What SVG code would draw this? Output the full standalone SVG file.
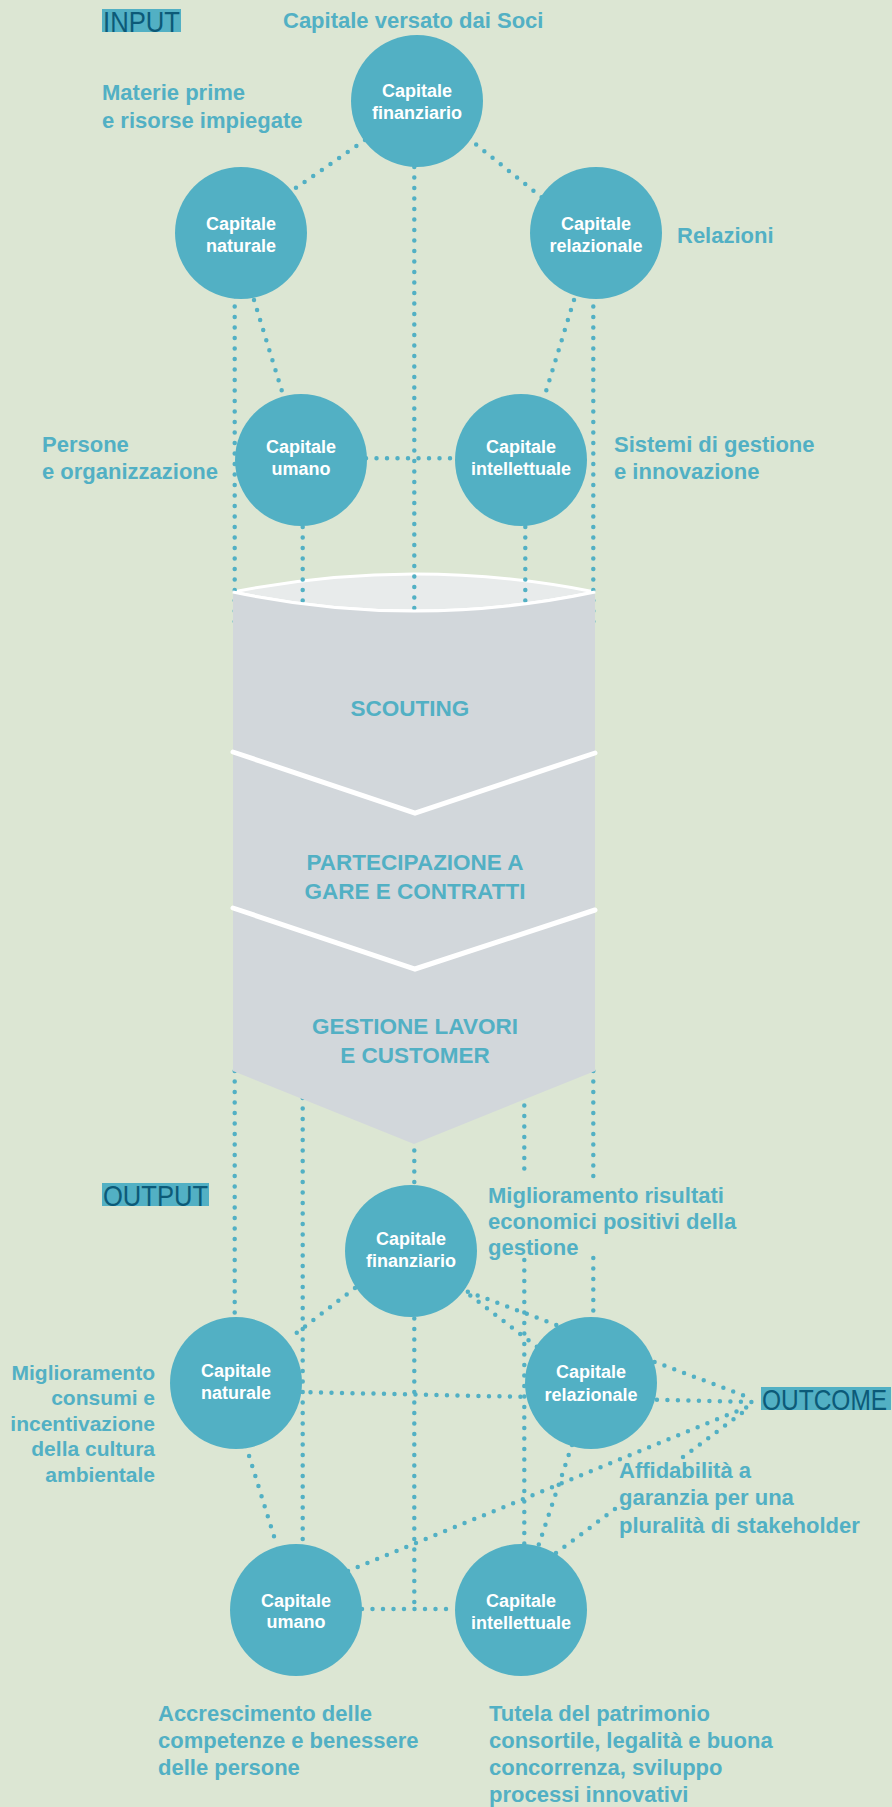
<svg xmlns="http://www.w3.org/2000/svg" width="892" height="1807" viewBox="0 0 892 1807">
<style>
.dot{fill:none;stroke:#52b0c4;stroke-width:4.5;stroke-linecap:round;stroke-dasharray:0 10.5}
.circ{fill:#52b0c4}
.cl{font-family:'Liberation Sans',Arial,sans-serif;font-weight:bold;font-size:18px;fill:#ffffff;text-anchor:middle}
.lbl{font-family:'Liberation Sans',Arial,sans-serif;font-weight:bold;font-size:22px;fill:#52b0c4}
.lbs{font-size:21px}
.ph{font-family:'Liberation Sans',Arial,sans-serif;font-weight:bold;font-size:22.5px;fill:#52b0c4;text-anchor:middle}
.tagbg{fill:#52b0c4}
.tag{font-family:'Liberation Sans',Arial,sans-serif;font-size:30px;fill:#0c5a78}
</style>
<rect width="892" height="1807" fill="#dce6d3"/>

<g id="process-top">
<path d="M233,592 Q414,556 595,592 Q414,630 233,592 Z" fill="#e8ebeb" stroke="#ffffff" stroke-width="3"/>
</g>

<g id="connectors">
<!-- input section -->
<path class="dot" d="M365,140 L290,192"/>
<path class="dot" d="M468,138 L545,200"/>
<path class="dot" d="M414.3,167 L414.3,611"/>
<path class="dot" d="M234.7,296 L234.7,628"/>
<path class="dot" d="M593.3,296 L593.3,628"/>
<path class="dot" d="M254,300 L284,398"/>
<path class="dot" d="M574,300 L544,398"/>
<path class="dot" d="M366,458.3 L456,458.3"/>
<path class="dot" d="M302.7,527 L302.7,604"/>
<path class="dot" d="M525.3,527 L525.3,605"/>
<!-- output section -->
<path class="dot" d="M234.7,1071 L234.7,1318"/>
<path class="dot" d="M302.7,1098 L302.7,1545"/>
<path class="dot" d="M414.3,1140 L414.3,1612"/>
<path class="dot" d="M524.3,1095 L524.3,1176"/>
<path class="dot" d="M524.3,1260 L524.3,1545"/>
<path class="dot" d="M593.3,1071 L593.3,1182"/>
<path class="dot" d="M593.3,1258 L593.3,1318"/>
<path class="dot" d="M355,1288 L290,1338"/>
<path class="dot" d="M462,1289 L545,1353"/>
<path class="dot" d="M458,1288 L748,1397"/>
<path class="dot" d="M300,1392 L757,1402"/>
<path class="dot" d="M572,1445 L537,1550"/>
<path class="dot" d="M246,1446 L277,1546"/>
<path class="dot" d="M362,1609 L456,1609"/>
<path class="dot" d="M348,1571 L752,1405"/>
<path class="dot" d="M556,1553 L615,1509"/>
<path class="dot" d="M683,1457 L750,1407"/>
</g>

<g id="process">
<path d="M233,592 Q414,630 595,592 L595,1071 L414,1144 L233,1071 Z" fill="#d2d7db"/>
<path d="M233,592 Q414,630 595,592" fill="none" stroke="#ffffff" stroke-width="3"/>
<polyline points="233,752 415,813 595,753" fill="none" stroke="#ffffff" stroke-width="5" stroke-linecap="round" stroke-linejoin="miter"/>
<polyline points="233,908 415,969 595,910" fill="none" stroke="#ffffff" stroke-width="5" stroke-linecap="round" stroke-linejoin="miter"/>
<text class="ph" x="410" y="716">SCOUTING</text>
<text class="ph" x="415" y="870">PARTECIPAZIONE A</text>
<text class="ph" x="415" y="899">GARE E CONTRATTI</text>
<text class="ph" x="415" y="1034">GESTIONE LAVORI</text>
<text class="ph" x="415" y="1063">E CUSTOMER</text>
</g>

<!-- input nodes -->
<g id="in-finanziario"><circle class="circ" cx="417" cy="101" r="66"/><text class="cl" x="417" y="97">Capitale</text><text class="cl" x="417" y="119">finanziario</text></g>
<g id="in-naturale"><circle class="circ" cx="241" cy="233" r="66"/><text class="cl" x="241" y="230">Capitale</text><text class="cl" x="241" y="252">naturale</text></g>
<g id="in-relazionale"><circle class="circ" cx="596" cy="233" r="66"/><text class="cl" x="596" y="230">Capitale</text><text class="cl" x="596" y="252">relazionale</text></g>
<g id="in-umano"><circle class="circ" cx="301" cy="460" r="66"/><text class="cl" x="301" y="453">Capitale</text><text class="cl" x="301" y="475">umano</text></g>
<g id="in-intellettuale"><circle class="circ" cx="521" cy="460" r="66"/><text class="cl" x="521" y="453">Capitale</text><text class="cl" x="521" y="475">intellettuale</text></g>

<!-- output nodes -->
<g id="out-finanziario"><circle class="circ" cx="411" cy="1251" r="66"/><text class="cl" x="411" y="1245">Capitale</text><text class="cl" x="411" y="1267">finanziario</text></g>
<g id="out-naturale"><circle class="circ" cx="236" cy="1383" r="66"/><text class="cl" x="236" y="1377">Capitale</text><text class="cl" x="236" y="1399">naturale</text></g>
<g id="out-relazionale"><circle class="circ" cx="591" cy="1383" r="66"/><text class="cl" x="591" y="1378">Capitale</text><text class="cl" x="591" y="1401">relazionale</text></g>
<g id="out-umano"><circle class="circ" cx="296" cy="1610" r="66"/><text class="cl" x="296" y="1607">Capitale</text><text class="cl" x="296" y="1628">umano</text></g>
<g id="out-intellettuale"><circle class="circ" cx="521" cy="1610" r="66"/><text class="cl" x="521" y="1607">Capitale</text><text class="cl" x="521" y="1629">intellettuale</text></g>

<!-- section tags -->
<g id="tag-input"><rect class="tagbg" x="102" y="9" width="79" height="23"/><text class="tag" x="103" y="31.5" textLength="77" lengthAdjust="spacingAndGlyphs">INPUT</text></g>
<g id="tag-output"><rect class="tagbg" x="102" y="1183" width="107" height="23"/><text class="tag" x="103" y="1205.5" textLength="105" lengthAdjust="spacingAndGlyphs">OUTPUT</text></g>
<g id="tag-outcome"><rect class="tagbg" x="761" y="1387" width="130" height="23"/><text class="tag" style="font-size:24.5px" transform="translate(762,1409.5) scale(1,1.22)" x="0" y="0">OUTCOME</text></g>

<!-- labels -->
<g id="labels">
<text class="lbl" x="283" y="28">Capitale versato dai Soci</text>
<text class="lbl" x="102" y="100">Materie prime</text>
<text class="lbl" x="102" y="128">e risorse impiegate</text>
<text class="lbl" x="677" y="243">Relazioni</text>
<text class="lbl" x="42" y="452">Persone</text>
<text class="lbl" x="42" y="479">e organizzazione</text>
<text class="lbl" x="614" y="452">Sistemi di gestione</text>
<text class="lbl" x="614" y="479">e innovazione</text>
<text class="lbl" x="488" y="1203">Miglioramento risultati</text>
<text class="lbl" x="488" y="1229">economici positivi della</text>
<text class="lbl" x="488" y="1255">gestione</text>
<g text-anchor="end">
<text class="lbl lbs" x="155" y="1380">Miglioramento</text>
<text class="lbl lbs" x="155" y="1405">consumi e</text>
<text class="lbl lbs" x="155" y="1431">incentivazione</text>
<text class="lbl lbs" x="155" y="1456">della cultura</text>
<text class="lbl lbs" x="155" y="1482">ambientale</text>
</g>
<text class="lbl" x="619" y="1478">Affidabilità a</text>
<text class="lbl" x="619" y="1505">garanzia per una</text>
<text class="lbl" x="619" y="1533">pluralità di stakeholder</text>
<text class="lbl" x="158" y="1721">Accrescimento delle</text>
<text class="lbl" x="158" y="1748">competenze e benessere</text>
<text class="lbl" x="158" y="1775">delle persone</text>
<text class="lbl" x="489" y="1721">Tutela del patrimonio</text>
<text class="lbl" x="489" y="1748">consortile, legalità e buona</text>
<text class="lbl" x="489" y="1775">concorrenza, sviluppo</text>
<text class="lbl" x="489" y="1802">processi innovativi</text>
</g>
</svg>
